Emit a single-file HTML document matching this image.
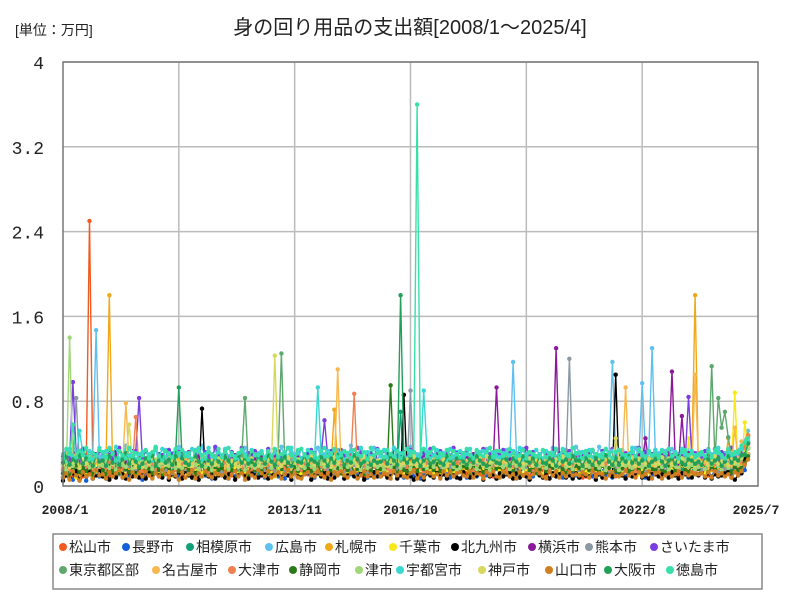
<!DOCTYPE html>
<html><head><meta charset="utf-8">
<style>
body{margin:0;background:#fff;font-family:"Liberation Sans","Noto Sans CJK JP",sans-serif;}
#wrap{position:relative;width:800px;height:600px;overflow:hidden;}
</style></head>
<body><div id="wrap">
<svg id="chart" width="800" height="600" xmlns="http://www.w3.org/2000/svg">
<text x="15" y="35" font-size="14" fill="#222" font-family="Liberation Sans,Noto Sans CJK JP,sans-serif">[単位：万円]</text>
<text x="410" y="34" font-size="20" fill="#222" text-anchor="middle" font-family="Liberation Sans,Noto Sans CJK JP,sans-serif">身の回り用品の支出額[2008/1～2025/4]</text>
<g id="grid"></g>
<g id="series"></g>
<rect x="63" y="62" width="695" height="424" fill="none" stroke="#777" stroke-width="1.5"/>
<g id="axes"></g>
<rect x="53" y="534" width="709" height="55" fill="#fff" stroke="#888" stroke-width="1.5"/>
<g id="legend"></g>
</svg>
</div>
<script>
const names=["松山市","長野市","相模原市","広島市","札幌市","千葉市","北九州市","横浜市","熊本市","さいたま市","東京都区部","名古屋市","大津市","静岡市","津市","宇都宮市","神戸市","山口市","大阪市","徳島市"];
const colors=["#f05a1e","#1560d8","#11a07a","#5ec0ee","#f0a818","#f8e81a","#000000","#8a1a9a","#8a98a4","#7a3ee0","#5ea86e","#f8b850","#f08050","#2a7a1a","#a0d878","#38d8d0","#d8d860","#d08020","#20a058","#38e0a8"];
const yTicks=[0,0.8,1.6,2.4,3.2,4];
const yTickLabels=["0","0.8","1.6","2.4","3.2","4"];
const xTickMonths=[0,35,70,105,140,175,210];
const xTickLabels=["2008/1","2010/12","2013/11","2016/10","2019/9","2022/8","2025/7"];
const s0=[.15,.12,.18,.10,.22,.14,.09,.16,2.5,.20,.13,.11, .12,.18,.09,.15,.22,.11,.14,.08,.19,.13,.25,.10, .20,.11,.16,.27,.13,.09,.18,.14,.12,.23,.15,.17, .09,.14,.21,.12,.17,.30,.10,.15,.24,.11,.13,.19, .16,.25,.12,.10,.19,.14,.28,.11,.13,.17,.09,.22, .14,.10,.23,.18,.11,.16,.12,.26,.15,.09,.20,.13, .26,.15,.11,.19,.24,.12,.17,.10,.21,.16,.14,.31, .12,.18,.09,.15,.22,.11,.14,.08,.19,.13,.25,.10, .20,.11,.16,.27,.13,.09,.18,.14,.12,.23,.15,.17, .09,.14,.21,.12,.17,.30,.10,.15,.24,.11,.13,.19, .16,.25,.12,.10,.19,.14,.28,.11,.13,.17,.09,.22, .14,.10,.23,.18,.11,.16,.12,.26,.15,.09,.20,.13, .26,.15,.11,.19,.24,.12,.17,.10,.21,.16,.14,.31, .12,.08,.09,.15,.22,.11,.14,.08,.19,.13,.25,.10, .20,.11,.16,.27,.13,.09,.18,.14,.12,.23,.15,.17, .09,.14,.21,.12,.17,.30,.10,.15,.24,.11,.13,.19, .16,.25,.12,.10,.19,.14,.28,.11,.13,.17,.09,.22, .14,.20,.35,.47];
const s1=[.08,.14,.11,.06,.17,.12,.20,.05,.13,.10,.16,.09, .11,.07,.15,.19,.09,.13,.08,.22,.10,.14,.12,.18, .06,.13,.10,.16,.24,.11,.09,.15,.07,.12,.19,.10, .14,.09,.17,.08,.12,.21,.13,.10,.16,.07,.11,.15, .10,.18,.07,.13,.09,.16,.12,.19,.08,.14,.11,.13, .12,.08,.16,.10,.23,.09,.14,.07,.18,.11,.13,.09, .09,.15,.12,.17,.08,.13,.10,.20,.11,.07,.16,.12, .13,.07,.18,.11,.14,.09,.22,.12,.08,.15,.10,.17, .11,.16,.09,.13,.18,.10,.12,.08,.15,.19,.09,.14, .07,.12,.15,.10,.13,.17,.09,.14,.11,.08,.20,.12, .14,.10,.08,.16,.12,.09,.18,.13,.10,.15,.11,.07, .10,.13,.17,.09,.15,.11,.08,.19,.12,.14,.09,.16, .12,.09,.14,.18,.10,.13,.16,.08,.11,.17,.12,.10, .08,.15,.11,.13,.09,.19,.12,.14,.10,.16,.08,.13, .15,.11,.09,.14,.17,.10,.13,.12,.08,.18,.11,.15, .10,.14,.12,.09,.16,.11,.19,.10,.13,.08,.15,.12, .11,.15,.10,.13,.09,.16,.12,.18,.31,.14,.10,.13, .18,.12,.15,.30];
const s2=[.20,.15,.24,.12,.18,.28,.14,.21,.16,.11,.25,.19, .16,.22,.13,.19,.27,.15,.12,.20,.17,.23,.14,.18, .21,.14,.19,.25,.12,.17,.22,.15,.20,.13,.26,.16, .15,.20,.17,.13,.23,.18,.26,.14,.19,.22,.12,.21, .18,.13,.22,.16,.20,.14,.17,.24,.15,.19,.23,.12, .22,.17,.14,.20,.15,.25,.18,.13,.21,.16,.19,.24, .14,.21,.18,.12,.26,.16,.20,.15,.23,.17,.13,.19, .19,.15,.23,.17,.14,.21,.16,.25,.12,.20,.18,.15, .17,.22,.13,.19,.24,.15,.70,.18,.16,.21,.14,.20, .23,.16,.20,.14,.18,.22,.15,.19,.25,.13,.17,.21, .15,.19,.16,.22,.13,.18,.24,.14,.20,.17,.23,.16, .20,.14,.25,.18,.16,.13,.21,.17,.15,.24,.19,.12, .16,.23,.14,.20,.17,.26,.15,.19,.13,.22,.18,.21, .21,.17,.19,.13,.24,.15,.18,.22,.16,.14,.20,.17, .14,.20,.22,.16,.19,.18,.13,.25,.21,.15,.17,.23, .18,.15,.17,.24,.14,.21,.19,.16,.22,.18,.13,.20, .17,.21,.14,.19,.23,.16,.20,.15,.18,.22,.14,.17, .19,.23,.28,.36];
const s3=[.25,.30,.22,.35,.28,.20,.33,.26,.24,.31,1.47,.27, .30,.24,.36,.29,.22,.33,.27,.38,.25,.21,.32,.28, .27,.33,.25,.30,.36,.23,.29,.34,.26,.31,.24,.37, .32,.26,.29,.24,.34,.28,.38,.25,.30,.27,.35,.22, .24,.35,.28,.32,.26,.30,.23,.36,.29,.33,.25,.31, .29,.23,.34,.27,.31,.25,.37,.28,.22,.32,.30,.26, .35,.28,.31,.24,.29,.36,.26,.30,.33,.25,.28,.34, .26,.32,.24,.38,.27,.30,.35,.23,.31,.28,.36,.25, .31,.27,.33,.29,.25,.34,.28,.32,.24,.37,.26,.30, .28,.35,.26,.31,.36,.24,.30,.27,.33,.29,.25,.32, .33,.25,.30,.28,.24,.29,.32,.26,.35,.30,.27,.31, .30,.26,.34,.25,1.17,.31,.27,.35,.29,.24,.32,.28, .27,.33,.25,.30,.36,.28,.31,.24,.34,.29,.26,.37, .32,.28,.31,.26,.33,.25,.37,.29,.27,.32,1.17,.30, .26,.34,.29,.31,.25,.36,.28,.97,.30,.33,1.30,.29, .31,.27,.33,.28,.35,.26,.30,.32,.25,.34,.29,.27, .29,.32,.26,.35,.30,.28,.33,.25,.31,.27,.36,.30, .34,.30,.43,.52];
const s4=[.18,.12,.25,.15,.20,.10,.22,.14,.17,.26,.13,.19, .15,.21,1.8,.17,.23,.12,.19,.28,.14,.16,.24,.11, .20,.14,.18,.23,.12,.26,.15,.19,.13,.21,.17,.25, .13,.22,.16,.19,.27,.14,.20,.12,.24,.18,.15,.21, .22,.16,.25,.13,.19,.17,.23,.15,.21,.12,.26,.18, .17,.24,.14,.20,.16,.28,.13,.22,.18,.25,.15,.20, .25,.14,.21,.18,.23,.16,.19,.26,.13,.20,.72,.17, .15,.20,.17,.24,.14,.22,.18,.16,.25,.13,.21,.19, .21,.17,.26,.15,.20,.13,.24,.18,.16,.22,.19,.14, .16,.23,.19,.21,.14,.25,.17,.20,.23,.15,.18,.26, .24,.15,.22,.17,.27,.18,.14,.21,.19,.24,.16,.20, .18,.26,.16,.20,.15,.23,.19,.25,.17,.14,.22,.18, .14,.19,.23,.16,.21,.17,.26,.13,.20,.18,.24,.15, .23,.16,.18,.25,.13,.20,.17,.22,.15,.27,.19,.21, .19,.24,.15,.21,.26,.14,.20,.18,.23,.16,.17,.25, .17,.15,.22,.18,.24,.19,.16,.21,.20,.15,.23,1.8, .16,.21,.19,.26,.15,.18,.23,.17,.20,.45,.19,.24, .22,.35,.40,.48];
const s5=[.10,.16,.12,.20,.08,.14,.18,.11,.15,.09,.22,.13, .14,.09,.19,.12,.17,.25,.10,.15,.13,.20,.11,.16, .11,.18,.14,.09,.21,.13,.16,.12,.19,.10,.15,.23, .17,.12,.10,.16,.14,.19,.11,.22,.13,.18,.09,.15, .13,.20,.16,.11,.18,.10,.24,.14,.12,.17,.15,.19, .16,.11,.21,.14,.09,.17,.13,.20,.15,.12,.18,.10, .12,.19,.15,.22,.13,.11,.17,.14,.20,.16,.10,.18, .18,.13,.11,.17,.21,.15,.12,.19,.09,.14,.23,.13, .15,.21,.13,.10,.16,.20,.14,.11,.18,.12,.17,.22, .11,.14,.19,.16,.12,.18,.10,.23,.15,.20,.13,.16, .19,.12,.16,.13,.22,.11,.17,.15,.14,.09,.21,.18, .14,.17,.11,.20,.15,.13,.19,.10,.16,.22,.12,.15, .17,.10,.22,.15,.12,.16,.14,.21,.11,.18,.19,.13, .13,.18,.14,.11,.20,.15,.23,.12,.17,.14,.10,.19, .16,.12,.20,.17,.13,.19,.11,.15,.22,.13,.18,.14, .10,.19,.15,.13,.18,.12,.16,.20,.14,.45,.11,.17, .18,.14,.12,.21,.16,.23,.15,.13,.19,.17,.22,.88, .15,.20,.60,.35];
const s6=[.05,.10,.08,.12,.14,.06,.11,.09,.13,.07,.10,.15, .09,.12,.06,.10,.08,.14,.11,.07,.13,.09,.12,.08, .11,.07,.13,.09,.12,.10,.08,.15,.06,.11,.09,.13, .07,.14,.10,.08,.12,.06,.73,.11,.09,.13,.07,.10, .12,.08,.11,.14,.06,.10,.13,.09,.07,.12,.10,.08, .10,.13,.07,.09,.15,.11,.08,.12,.10,.06,.14,.09, .08,.11,.14,.06,.10,.12,.09,.13,.07,.11,.08,.12, .13,.07,.10,.12,.09,.08,.14,.06,.11,.10,.13,.09, .09,.12,.08,.11,.13,.07,.10,.86,.12,.09,.06,.11, .11,.06,.12,.10,.08,.14,.09,.11,.07,.13,.10,.08, .07,.13,.09,.08,.11,.10,.12,.06,.14,.09,.11,.07, .12,.09,.11,.13,.07,.12,.08,.10,.09,.06,.12,.14, .10,.08,.13,.07,.12,.09,.11,.14,.08,.10,.07,.12, .08,.12,.10,.09,.14,.06,.11,.08,.13,.11,.09,1.05, .13,.10,.07,.11,.09,.12,.14,.08,.10,.07,.13,.11, .09,.11,.12,.08,.13,.10,.07,.12,.11,.09,.08,.13, .10,.13,.08,.12,.07,.11,.09,.10,.12,.14,.08,.06, .10,.12,.25,.30];
const s7=[.22,.28,.18,.31,.24,.20,.35,.19,.26,.23,.30,.21, .25,.20,.29,.23,.32,.18,.27,.22,.24,.33,.19,.26, .19,.26,.23,.28,.21,.30,.17,.25,.29,.20,.24,.31, .27,.22,.32,.19,.25,.28,.23,.20,.30,.26,.18,.24, .23,.30,.20,.26,.29,.21,.27,.24,.19,.31,.25,.22, .28,.19,.25,.22,.27,.33,.20,.28,.23,.18,.26,.29, .20,.27,.31,.24,.18,.25,.29,.21,.26,.23,.30,.20, .24,.21,.26,.30,.23,.19,.28,.25,.22,.27,.20,.32, .30,.25,.22,.19,.27,.24,.21,.29,.26,.20,.28,.23, .21,.29,.25,.27,.20,.31,.24,.22,.28,.25,.19,.26, .26,.22,.28,.21,.30,.23,.19,.27,.24,.29,.22,.93, .23,.31,.20,.26,.24,.28,.22,.25,.30,.21,.27,.19, .27,.20,.29,.23,.22,1.3,.25,.21,.28,.24,.26,.30, .22,.28,.24,.30,.19,.26,.23,.29,.21,.27,.25,.22, .29,.23,.26,.21,.27,.20,.30,.24,.45,.22,.28,.25, .25,.21,.30,.27,1.08,.24,.20,.66,.26,.31,.23,.28, .28,.24,.21,.29,.23,.27,.25,.20,.26,.22,.24,.29, .25,.30,.33,.41];
const s8=[.15,.20,.12,.26,.83,.18,.14,.22,.17,.25,.13,.19, .18,.13,.24,.16,.21,.11,.27,.15,.19,.23,.16,.12, .14,.22,.17,.20,.13,.25,.18,.15,.23,.12,.20,.17, .20,.16,.13,.23,.18,.15,.21,.26,.14,.19,.24,.16, .13,.24,.19,.15,.22,.17,.12,.20,.25,.16,.18,.21, .22,.15,.18,.27,.14,.20,.23,.13,.17,.24,.15,.19, .17,.21,.14,.19,.25,.13,.18,.22,.16,.20,.12,.26, .19,.14,.23,.16,.20,.24,.15,.19,.13,.22,.18,.15, .16,.22,.18,.13,.21,.15,.25,.17,.20,.90,.14,.21, .21,.17,.13,.24,.19,.22,.16,.14,.27,.18,.23,.15, .14,.25,.20,.17,.15,.19,.23,.21,.13,.16,.20,.24, .18,.13,.22,.19,.24,.16,.12,.20,.18,.25,.15,.17, .23,.19,.16,.14,.20,.26,.18,.15,.22,1.2,.17,.21, .15,.20,.24,.18,.13,.21,.17,.25,.19,.14,.22,.16, .20,.16,.19,.22,.17,.14,.23,.18,.15,.21,.26,.13, .17,.23,.14,.20,.25,.18,.16,.22,.19,.13,.20,.24, .22,.15,.21,.17,.19,.24,.13,.20,.16,.23,.18,.15, .20,.28,.30,.37];
const s9=[.28,.32,.25,.98,.30,.22,.35,.27,.24,.31,.26,.33, .30,.25,.34,.27,.22,.36,.29,.31,.26,.24,.33,.83, .25,.33,.28,.31,.36,.24,.29,.27,.34,.30,.23,.32, .33,.27,.30,.24,.29,.35,.26,.32,.28,.25,.37,.29, .27,.34,.25,.32,.28,.30,.36,.24,.31,.27,.33,.26, .31,.26,.35,.28,.24,.33,.27,.30,.36,.29,.25,.32, .26,.30,.28,.34,.31,.25,.29,.62,.27,.33,.30,.24, .34,.28,.25,.30,.27,.36,.32,.26,.29,.31,.24,.35, .29,.33,.30,.26,.35,.28,.24,.31,.27,.34,.32,.25, .25,.31,.27,.35,.29,.24,.33,.28,.30,.26,.36,.31, .32,.27,.33,.29,.26,.31,.28,.35,.24,.30,.27,.33, .28,.34,.26,.31,.33,.27,.30,.25,.36,.29,.32,.26, .30,.25,.32,.28,.24,.35,.29,.31,.27,.33,.26,.30, .27,.32,.29,.26,.34,.30,.25,.33,.28,.31,.35,.27, .33,.28,.31,.25,.30,.27,.36,.29,.32,.26,.30,.34, .26,.31,.28,.34,.29,.32,.27,.30,.25,.84,.29,.31, .31,.27,.33,.30,.26,.35,.28,.32,.29,.31,.36,.27, .30,.33,.36,.40];
const s10=[.20,.26,.17,.23,.30,.19,.24,.21,.28,.18,.25,.22, .23,.18,.27,.21,.19,.26,.24,.17,.29,.22,.20,.25, .19,.25,.22,.28,.20,.24,.18,.26,.21,.27,.23,.19, .26,.21,.19,.24,.27,.22,.25,.20,.23,.18,.28,.24, .22,.27,.24,.19,.25,.21,.29,.83,.20,.26,.22,.23, .25,.19,.26,.23,.21,.28,1.25,.24,.22,.20,.27,.21, .21,.24,.20,.27,.23,.19,.25,.22,.28,.24,.18,.26, .27,.22,.25,.21,.24,.29,.20,.23,.19,.27,.25,.22, .19,.26,.23,.28,.20,.24,.22,.27,.25,.21,.23,.20, .24,.20,.27,.22,.26,.19,.25,.21,.23,.28,.20,.26, .22,.28,.21,.25,.19,.27,.23,.26,.20,.24,.29,.22, .26,.21,.24,.20,.28,.22,.19,.25,.27,.23,.21,.24, .20,.25,.22,.27,.23,.26,.21,.19,.24,.28,.22,.25, .23,.19,.28,.22,.25,.20,.27,.24,.21,.26,.23,.20, .25,.27,.20,.24,.21,.26,.23,.28,.22,.19,.25,.27, .21,.24,.26,.20,.27,.22,.25,.21,.28,.23,.26,.22, .24,.22,.21,.26,1.13,.25,.83,.55,.70,.46,.27,.24, .25,.36,.30,.42];
const s11=[.18,.24,.15,.21,.27,.16,.22,.19,.25,.14,.23,.20, .17,.22,.26,.19,.15,.24,.20,.78,.21,.18,.25,.16, .22,.16,.20,.25,.18,.23,.17,.21,.26,.19,.15,.24, .19,.25,.17,.22,.20,.15,.26,.18,.23,.21,.17,.24, .24,.18,.23,.16,.26,.21,.19,.25,.17,.22,.20,.18, .16,.23,.20,.26,.19,.22,.17,.24,.21,.15,.25,.19, .21,.26,.18,.22,.17,.24,.20,.16,.23,.25,.19,1.1, .20,.17,.25,.19,.23,.18,.26,.22,.16,.21,.24,.18, .23,.21,.16,.24,.20,.26,.18,.22,.25,.17,.20,.23, .17,.24,.22,.19,.25,.16,.23,.20,.18,.26,.21,.19, .25,.19,.23,.17,.21,.24,.16,.26,.22,.18,.23,.20, .19,.22,.26,.20,.16,.23,.25,.18,.21,.24,.17,.22, .22,.18,.20,.24,.23,.19,.21,.25,.17,.20,.26,.18, .20,.25,.17,.21,.26,.18,.22,.19,.24,.16,.23,.21, .26,.20,.93,.18,.22,.25,.19,.23,.17,.24,.20,.22, .18,.23,.21,.26,.19,.17,.24,.20,.22,.25,.18,1.05, .24,.19,.22,.17,.25,.21,.18,.23,.20,.26,.19,.55, .21,.42,.35,.30];
const s12=[.16,.21,.13,.19,.24,.15,.20,.17,.22,.12,.25,.18, .20,.15,.23,.17,.13,.21,.18,.16,.24,.19,.65,.14, .14,.22,.18,.21,.16,.25,.13,.20,.17,.23,.15,.19, .21,.17,.24,.14,.19,.16,.22,.18,.13,.20,.24,.17, .17,.23,.15,.20,.22,.18,.14,.24,.19,.16,.21,.25, .23,.18,.20,.16,.25,.13,.21,.17,.22,.19,.15,.20, .15,.20,.24,.18,.14,.22,.19,.16,.23,.17,.21,.13, .19,.16,.21,.25,.87,.17,.23,.20,.15,.24,.18,.22, .22,.24,.17,.14,.20,.23,.16,.21,.18,.13,.25,.19, .18,.14,.22,.20,.17,.21,.24,.15,.20,.22,.16,.23, .13,.21,.19,.23,.15,.18,.20,.25,.17,.14,.22,.18, .24,.17,.15,.21,.19,.24,.14,.18,.22,.20,.16,.25, .16,.22,.20,.17,.23,.15,.21,.19,.14,.24,.18,.20, .20,.19,.23,.15,.18,.22,.17,.24,.21,.16,.19,.23, .17,.23,.16,.22,.20,.14,.25,.18,.23,.21,.15,.19, .22,.15,.21,.18,.24,.19,.16,.22,.17,.25,.20,.14, .19,.24,.18,.23,.16,.21,.20,.17,.22,.18,.24,.21, .18,.22,.36,.48];
const s13=[.12,.18,.10,.16,.20,.13,.17,.14,.19,.11,.15,.21, .15,.11,.19,.14,.17,.12,.22,.16,.13,.18,.10,.17, .18,.14,.16,.12,.20,.15,.11,.19,.17,.13,.21,.14, .13,.19,.15,.18,.11,.17,.20,.12,.16,.14,.18,.15, .17,.12,.20,.15,.14,.19,.13,.16,.11,.21,.15,.18, .14,.20,.12,.17,.19,.13,.16,.21,.15,.12,.18,.14, .19,.13,.17,.14,.16,.21,.12,.18,.20,.15,.13,.17, .12,.18,.15,.20,.13,.16,.19,.11,.17,.14,.21,.16, .16,.14,.19,.95,.18,.12,.20,.15,.13,.19,.17,.14, .20,.16,.13,.18,.15,.21,.14,.17,.19,.12,.16,.18, .14,.19,.17,.12,.20,.15,.18,.13,.16,.21,.14,.17, .18,.13,.20,.16,.14,.19,.12,.17,.21,.15,.18,.13, .15,.21,.14,.19,.17,.13,.20,.16,.12,.18,.15,.19, .17,.12,.18,.15,.21,.16,.14,.19,.13,.17,.20,.14, .13,.17,.21,.14,.16,.19,.15,.12,.18,.20,.16,.15, .19,.15,.13,.18,.20,.14,.17,.21,.15,.13,.19,.16, .16,.20,.17,.13,.18,.15,.19,.14,.22,.17,.13,.18, .15,.17,.22,.28];
const s14=[.22,.15,1.4,.19,.24,.17,.21,.26,.18,.23,.14,.20, .19,.24,.17,.22,.15,.26,.20,.18,.25,.16,.21,.23, .23,.18,.21,.16,.25,.20,.14,.22,.19,.26,.17,.21, .17,.22,.19,.25,.20,.16,.23,.18,.21,.15,.24,.20, .21,.26,.16,.20,.23,.18,.25,.15,.22,.19,.17,.24, .18,.20,.24,.17,.21,.14,.19,.23,.26,.18,.22,.16, .24,.17,.22,.19,.16,.25,.21,.18,.20,.23,.15,.21, .16,.23,.18,.26,.22,.19,.15,.24,.17,.21,.25,.18, .20,.15,.24,.18,.21,.23,.17,.20,.26,.16,.22,.19, .22,.19,.16,.23,.18,.25,.20,.17,.21,.24,.18,.15, .17,.24,.21,.19,.25,.16,.22,.20,.18,.15,.23,.26, .25,.18,.20,.16,.22,.19,.24,.17,.21,.26,.19,.20, .19,.22,.17,.24,.20,.15,.21,.25,.18,.22,.16,.23, .21,.16,.25,.18,.23,.20,.17,.22,.15,.24,.19,.21, .15,.23,.19,.21,.17,.24,.26,.18,.20,.16,.22,.19, .24,.18,.22,.15,.21,.19,.17,.23,.25,.18,.20,.16, .18,.21,.16,.24,.20,.23,.19,.15,.22,.17,.24,.21, .20,.26,.31,.35];
const s15=[.30,.24,.35,.28,.26,.52,.31,.27,.33,.25,.29,.36, .27,.33,.26,.31,.37,.24,.29,.34,.28,.32,.25,.30, .32,.26,.30,.24,.34,.28,.35,.27,.31,.23,.33,.29, .25,.31,.28,.35,.27,.33,.24,.30,.36,.28,.26,.32, .29,.35,.24,.31,.28,.26,.33,.30,.25,.34,.29,.27, .33,.27,.31,.26,.35,.29,.24,.32,.28,.36,.26,.31, .26,.30,.34,.28,.24,.93,.31,.27,.33,.29,.35,.25, .31,.25,.29,.33,.27,.30,.36,.26,.32,.28,.24,.34, .28,.34,.27,.30,.36,.25,.31,.29,.26,.33,.30,.27, .24,.90,.32,.26,.29,.34,.27,.31,.25,.35,.28,.30, .33,.27,.30,.35,.25,.31,.28,.33,.29,.26,.32,.28, .27,.31,.25,.29,.33,.28,.36,.24,.30,.32,.27,.34, .30,.26,.33,.28,.31,.25,.29,.35,.27,.30,.24,.31, .25,.32,.29,.34,.27,.30,.26,.31,.35,.28,.33,.26, .32,.28,.26,.30,.36,.27,.33,.29,.25,.31,.28,.34, .29,.34,.31,.25,.28,.32,.27,.35,.30,.26,.33,.29, .26,.30,.28,.33,.27,.31,.36,.29,.25,.32,.28,.30, .31,.35,.30,.42];
const s16=[.20,.26,.18,.23,.29,.17,.24,.21,.27,.19,.25,.22, .23,.19,.28,.21,.25,.20,.24,.26,.58,.22,.18,.25, .18,.24,.21,.27,.19,.25,.22,.20,.26,.23,.28,.19, .25,.20,.23,.18,.26,.22,.19,.27,.21,.24,.20,.26, .22,.27,.19,.24,.21,.18,.25,.23,.20,.26,.22,.19, .24,.20,.26,.21,1.23,.25,.19,.22,.27,.20,.23,.25, .19,.25,.22,.28,.20,.23,.26,.21,.24,.18,.27,.22, .26,.21,.24,.20,.25,.19,.22,.27,.23,.26,.20,.24, .21,.27,.19,.23,.26,.24,.20,.22,.25,.21,.28,.19, .23,.20,.26,.22,.24,.27,.21,.25,.19,.23,.22,.26, .27,.22,.20,.25,.21,.23,.26,.19,.28,.22,.24,.20, .20,.26,.23,.19,.27,.22,.25,.21,.23,.26,.19,.24, .24,.21,.27,.23,.20,.25,.22,.28,.21,.19,.26,.23, .22,.25,.19,.26,.23,.21,.24,.20,.27,.25,.22,.45, .26,.20,.24,.22,.27,.19,.25,.23,.21,.26,.24,.20, .21,.27,.22,.25,.20,.24,.23,.26,.19,.22,.28,.24, .25,.22,.26,.20,.24,.28,.21,.23,.26,.20,.25,.22, .23,.27,.32,.38];
const s17=[.08,.12,.06,.14,.10,.05,.13,.09,.11,.07,.15,.10, .11,.07,.13,.09,.12,.15,.08,.10,.06,.13,.09,.12, .09,.14,.10,.07,.12,.09,.15,.11,.08,.13,.10,.06, .13,.08,.11,.15,.07,.12,.09,.14,.10,.08,.12,.11, .10,.13,.07,.11,.14,.09,.12,.06,.13,.10,.08,.15, .12,.09,.14,.08,.10,.13,.07,.11,.15,.09,.12,.08, .07,.11,.13,.10,.09,.14,.11,.08,.12,.06,.13,.10, .14,.10,.08,.12,.13,.07,.10,.14,.09,.11,.08,.13, .09,.12,.11,.07,.14,.10,.13,.09,.08,.12,.15,.07, .11,.08,.13,.12,.09,.11,.07,.14,.10,.13,.09,.12, .13,.10,.09,.14,.08,.12,.11,.07,.13,.10,.14,.09, .08,.14,.12,.09,.11,.07,.13,.10,.12,.08,.11,.15, .12,.09,.07,.13,.10,.14,.08,.12,.09,.13,.10,.11, .10,.13,.11,.08,.14,.09,.12,.11,.07,.10,.13,.09, .09,.11,.14,.10,.12,.08,.13,.09,.11,.14,.07,.12, .13,.07,.10,.12,.09,.11,.14,.08,.12,.10,.13,.11, .11,.12,.09,.13,.08,.14,.10,.12,.09,.11,.08,.13, .10,.14,.20,.25];
const s18=[.22,.27,.20,.25,.23,.29,.21,.26,.24,.19,.28,.23, .24,.19,.28,.22,.26,.20,.25,.31,.21,.27,.23,.18, .21,.26,.23,.29,.19,.24,.27,.22,.25,.20,.28,.93, .26,.22,.20,.25,.28,.23,.19,.26,.24,.21,.27,.23, .20,.27,.24,.19,.25,.29,.22,.26,.21,.24,.20,.28, .25,.21,.29,.23,.20,.26,.24,.27,.22,.19,.25,.23, .22,.28,.20,.25,.23,.21,.27,.24,.19,.26,.22,.29, .27,.20,.24,.22,.29,.25,.21,.23,.26,.20,.24,.22, .23,.26,.21,.28,.24,.20,1.8,.25,.22,.27,.23,.25, .19,.24,.27,.21,.23,.26,.22,.20,.28,.24,.21,.26, .26,.23,.20,.25,.22,.28,.24,.21,.19,.27,.25,.22, .21,.27,.25,.19,.26,.23,.20,.28,.24,.22,.26,.20, .28,.22,.21,.26,.24,.19,.27,.23,.25,.21,.28,.24, .24,.19,.26,.23,.20,.27,.22,.25,.29,.23,.20,.26, .20,.26,.23,.28,.22,.25,.21,.24,.27,.19,.23,.25, .27,.23,.19,.24,.26,.21,.28,.22,.20,.25,.24,.21, .23,.20,.27,.25,.21,.24,.26,.19,.23,.28,.22,.26, .24,.29,.30,.40];
const s19=[.26,.35,.30,.58,.27,.33,.29,.36,.25,.31,.28,.34, .32,.27,.35,.30,.24,.33,.29,.26,.36,.28,.31,.25, .29,.34,.26,.32,.37,.28,.24,.33,.30,.27,.35,.31, .34,.28,.31,.25,.33,.36,.29,.26,.32,.30,.27,.35, .27,.32,.36,.29,.26,.31,.34,.28,.25,.33,.30,.29, .31,.26,.33,.28,.35,.27,.30,.32,.36,.29,.25,.34, .35,.29,.27,.32,.30,.26,.33,.36,.28,.31,.34,.27, .29,.33,.31,.26,.34,.30,.28,.32,.25,.36,.29,.31, .32,.27,.34,.30,.28,.33,.26,.31,.35,.29,.32,3.6, .30,.35,.28,.32,.36,.27,.31,.29,.34,.26,.33,.30, .27,.31,.35,.29,.26,.34,.30,.28,.32,.36,.27,.33, .33,.28,.30,.35,.31,.27,.29,.34,.26,.32,.30,.28, .28,.34,.27,.31,.29,.35,.26,.33,.30,.28,.36,.31, .31,.26,.33,.28,.34,.30,.29,.27,.35,.31,.26,.32, .34,.30,.29,.26,.32,.28,.35,.31,.27,.33,.29,.30, .27,.33,.31,.35,.28,.30,.26,.32,.34,.29,.31,.27, .30,.32,.28,.33,.27,.34,.31,.29,.26,.35,.30,.32, .33,.38,.41,.45];
const seriesData=[s0,s1,s2,s3,s4,s5,s6,s7,s8,s9,s10,s11,s12,s13,s14,s15,s16,s17,s18,s19];

const NS="http://www.w3.org/2000/svg";
const PL=63,PR=758,PT=62,PB=486,XMAX=210,YMAX=4;
function xScale(m){return PL+(m/XMAX)*(PR-PL);}
function yScale(v){return PB-(v/YMAX)*(PB-PT);}
function mk(tag,attrs,parent){const e=document.createElementNS(NS,tag);for(const k in attrs)e.setAttribute(k,attrs[k]);parent.appendChild(e);return e;}
const grid=document.getElementById('grid'),axes=document.getElementById('axes');
yTicks.forEach((v,i)=>{
  const y=yScale(v);
  const gl=mk('line',{x1:PL,x2:PR,y1:y,y2:y,stroke:'#bbb','stroke-width':1.5},grid);
  
  
  const t=mk('text',{x:44,y:y+7,'font-size':18,'text-anchor':'end',fill:'#222','font-family':'Liberation Mono,monospace'},axes);
  t.textContent=yTickLabels[i];
  
  
});
xTickMonths.forEach((m,i)=>{
  const x=xScale(m);
  if(i>0&&i<xTickMonths.length-1){
    const gl=mk('line',{x1:x,x2:x,y1:PT,y2:PB,stroke:'#bbb','stroke-width':1.5},grid);
    
    
  }
  const t=mk('text',{x:i==0?x+2:(i==xTickMonths.length-1?x-2:x),y:514,'font-size':13,'font-weight':'bold','text-anchor':'middle',fill:'#222','font-family':'Liberation Mono,monospace'},axes);
  t.textContent=xTickLabels[i];
  
  
});
const sg=document.getElementById('series');
seriesData.forEach((arr,si)=>{
  const g=mk('g',{},sg);
  
  
  const pts=arr.map((v,i)=>xScale(i).toFixed(1)+','+yScale(v).toFixed(1)).join(' ');
  const pl=mk('polyline',{points:pts,fill:'none',stroke:colors[si],'stroke-width':1.4,'stroke-linejoin':'round'},g);
  
  
  arr.forEach((v,i)=>{
    const c=mk('circle',{cx:xScale(i),cy:yScale(v),r:2.2,fill:colors[si]},g);
    
    
  });
});
const lg=document.getElementById('legend');
const legX1=[58,121,185,264,324,388,450,527,584,649];
const legX2=[58,151,227,288,354,395,477,544,603,665];
names.forEach((n,i)=>{
  const r=i<10?0:1, c=i%10;
  const x=r==0?legX1[c]:legX2[c];
  const y=r==0?552:575;
  const g=mk('g',{},lg);
  
  
  mk('circle',{cx:x+5,cy:y-5,r:4,fill:colors[i]},g);
  const t=mk('text',{x:x+11,y:y,'font-size':14,fill:'#222','font-family':'Liberation Sans,Noto Sans CJK JP,sans-serif'},g);
  t.textContent=n;
});
</script>
</body></html>
